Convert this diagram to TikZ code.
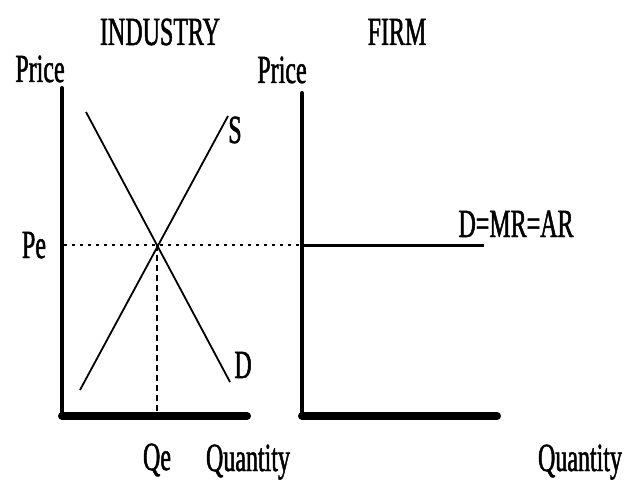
\documentclass[tikz,border=0pt]{standalone}
\usepackage{fontspec}
\setmainfont[FakeStretch=0.6,FakeBold=1.2]{Liberation Serif}
\begin{document}
\begin{tikzpicture}[x=1pt,y=-1pt,
  lbl/.style={font=\fontsize{40}{42}\selectfont, inner sep=0pt, anchor=base},
  axisline/.style={line width=4pt, line cap=round},
  baseline/.style={line width=8pt, line cap=round},
  curveline/.style={line width=1.8pt},
  flatline/.style={line width=3pt},
  dotline/.style={line width=2pt, dash pattern=on 2.5pt off 5.5pt},
  dashline/.style={line width=1.5pt, dash pattern=on 6pt off 4pt}]
\useasboundingbox (0,0) rectangle (626,481);
% left panel coordinates
\coordinate (Ltop) at (62,88);
\coordinate (Lorig) at (62,416);
\coordinate (Lend) at (247,416);
\coordinate (Dtop) at (86,112);
\coordinate (Dbot) at (230,382);
\coordinate (Sbot) at (80,390);
\coordinate (Stop) at (228,116);
\coordinate (E) at (157,245);
\coordinate (PeL) at (64,245);
\coordinate (QeB) at (157,413);
% right panel coordinates
\coordinate (Rtop) at (302,93);
\coordinate (Rorig) at (302,416);
\coordinate (Rend) at (497,416);
\coordinate (Rpe) at (300,245);
\coordinate (Rh) at (304,245);
\coordinate (Rhe) at (484,245);
% labels
\node[lbl] (ind) at (160,45) {INDUSTRY};
\node[lbl] (firm) at (397,45) {FIRM};
\node[lbl] (pl) at (40,82) {Price};
\node[lbl] (pr) at (282,83) {Price};
\node[lbl] (s) at (235,143) {S};
\node[lbl] (pe) at (34,258) {Pe};
\node[lbl] (d) at (243,378) {D};
\node[lbl] (qe) at (157,470) {Qe};
\node[lbl] (ql) at (248,471) {Quantity};
\node[lbl] (qr) at (580,471) {Quantity};
\node[lbl] (dmr) at (516,237) {D=MR=AR};
% left panel
\draw[dotline] (PeL) -- (Rpe);
\draw[dashline] (E) -- (QeB);
\draw[curveline] (Dtop) -- (Dbot);
\draw[curveline] (Sbot) -- (Stop);
\draw[axisline] (Ltop) -- (Lorig);
\draw[baseline] (Lorig) -- (Lend);
% right panel
\draw[flatline] (Rh) -- (Rhe);
\draw[axisline] (Rtop) -- (Rorig);
\draw[baseline] (Rorig) -- (Rend);
\end{tikzpicture}
\end{document}
